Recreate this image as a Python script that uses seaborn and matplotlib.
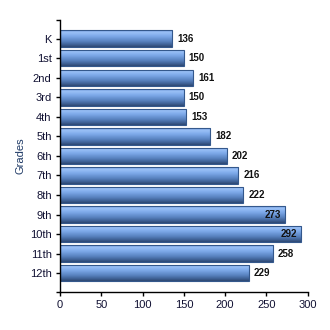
import matplotlib
matplotlib.use("Agg")
import matplotlib.pyplot as plt
import seaborn as sns
import numpy as np
import pandas as pd
from matplotlib.colors import LinearSegmentedColormap

grades = ["K", "1st", "2nd", "3rd", "4th", "5th", "6th", "7th", "8th", "9th", "10th", "11th", "12th"]
counts = [136, 150, 161, 150, 153, 182, 202, 216, 222, 273, 292, 258, 229]
x_ticks = [0, 50, 100, 150, 200, 250, 300]

df = pd.DataFrame({"grade": grades, "count": counts})

sns.set_style("white")
plt.rcParams['font.family'] = ['Liberation Sans', 'DejaVu Sans']

fig = plt.figure(figsize=(3.3, 3.3), dpi=100)
ax = fig.add_axes([0.1818, 0.116, 0.7507, 0.823])

sns.barplot(data=df, x="count", y="grade", orient="h", ax=ax, color="#5b88cc",
            width=0.84, edgecolor="#34588c", linewidth=0.8)

cmap = LinearSegmentedColormap.from_list("bar", [
    (0.0, "#6f9be0"), (0.12, "#9cc2f7"), (0.35, "#7eaaea"),
    (0.65, "#5a84c2"), (0.88, "#3d5f92"), (1.0, "#2c466f")])
grad = np.linspace(0, 1, 64).reshape(-1, 1)
for p in ax.patches:
    x0, y0 = p.get_x(), p.get_y()
    w, h = p.get_width(), p.get_height()
    im = ax.imshow(grad, cmap=cmap, aspect="auto", interpolation="bicubic",
                   extent=(x0, x0 + w, y0 + h, y0), zorder=p.get_zorder() + 0.1,
                   origin="upper")
    im.set_clip_path(p)
    p.set_facecolor("none")
    p.set_zorder(p.get_zorder() + 0.2)

ax.set_xlim(0, 300)
ax.set_ylim(12.95, -0.95)
ax.set_xticks(x_ticks)
ax.set_xticklabels([str(t) for t in x_ticks])
ax.set_yticks(range(len(grades)))
ax.set_yticklabels(grades)
ax.set_yticks([-0.95, 12.95], minor=True)
ax.tick_params(axis="both", which="both", direction="out", length=3, width=1,
               colors="black", labelsize=8, pad=3,
               bottom=True, left=True)
for lbl in ax.get_xticklabels() + ax.get_yticklabels():
    lbl.set_color("#111133")

for s in ["top", "right"]:
    ax.spines[s].set_visible(False)
for s in ["left", "bottom"]:
    ax.spines[s].set_color("black")
    ax.spines[s].set_linewidth(1)

ax.set_xlabel("")
ax.set_ylabel("Grades", fontsize=8, color="#1f3a66", labelpad=3)

for i, v in enumerate(counts):
    if v > 265:
        ax.text(v - 5, i, str(v), ha="right", va="center", fontsize=7,
                fontweight="bold", color="#111111", zorder=10)
    else:
        ax.text(v + 6, i, str(v), ha="left", va="center", fontsize=7,
                fontweight="bold", color="#111111", zorder=10)

fig.savefig("out.png", dpi=100)
